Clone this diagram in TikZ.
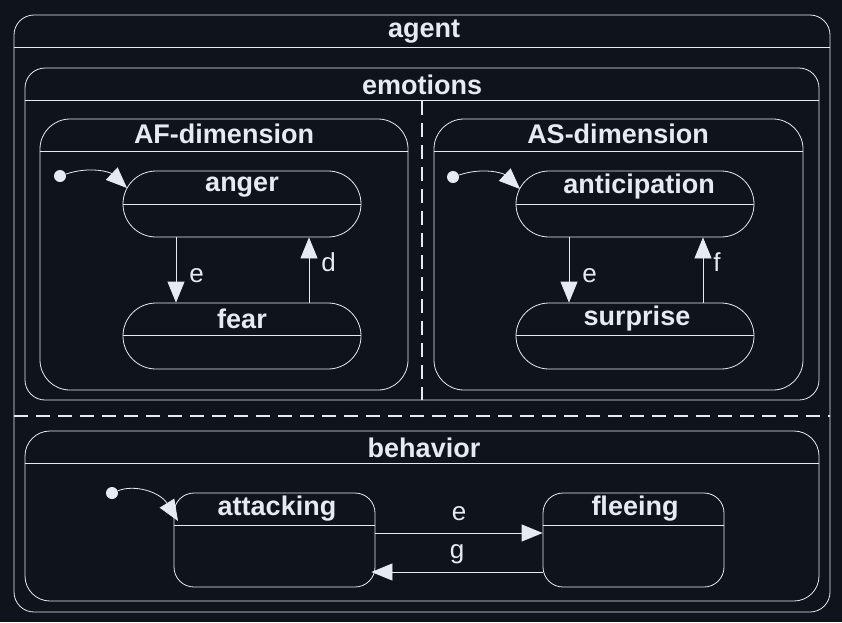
\documentclass[tikz,border=0pt]{standalone}
\usepackage{fontspec}
\setmainfont{Liberation Sans}
\usetikzlibrary{arrows.meta}
\definecolor{bgcol}{HTML}{0F131B}
\definecolor{fgcol}{HTML}{E6EBF2}

\tikzset{
  box/.style={draw=fgcol, line width=0.8pt, rectangle, inner sep=0},
  title/.style={text=fgcol, font=\fontsize{27}{30}\selectfont\bfseries, inner sep=0},
  lbl/.style={text=fgcol, font=\fontsize{26}{30}\selectfont, inner sep=0},
  trans/.style={draw=fgcol, line width=0.8pt, -{Triangle[length=21pt,width=17pt]}},
  init/.style={circle, fill=fgcol, minimum size=12pt, inner sep=0},
  split/.style={draw=fgcol, line width=1.8pt, dash pattern=on 14pt off 8pt},
}

\begin{document}
\begin{tikzpicture}[x=1pt, y=-1pt]
\fill[bgcol] (0,0) rectangle (842,622);
\useasboundingbox (0,0) rectangle (842,622);

% agent
\node[box, rounded corners=20, minimum width=816, minimum height=597] (agent) at (422,313.5) {};
\draw[fgcol, line width=0.8pt] ([yshift=-33pt]agent.north west) -- ([yshift=-33pt]agent.north east);
\node[title] (agent title) at (424,32) {agent};

% emotions
\node[box, rounded corners=20, minimum width=794, minimum height=332] (emotions) at (422,234) {};
\draw[fgcol, line width=0.8pt] ([yshift=-33pt]emotions.north west) -- ([yshift=-33pt]emotions.north east);
\node[title] (emotions title) at (422,85) {emotions};
\draw[split] (422,101) -- (422,400);
\draw[split] (14,416) -- (830,416);

% AF-dimension
\node[box, rounded corners=30, minimum width=368, minimum height=271] (af) at (224,254.5) {};
\draw[fgcol, line width=0.8pt] ([yshift=-33pt]af.north west) -- ([yshift=-33pt]af.north east);
\node[title] (af title) at (224,134) {AF-dimension};

\node[box, rounded corners=33, minimum width=238, minimum height=66] (anger) at (242,204) {};
\draw[fgcol, line width=0.8pt] ([yshift=-34pt]anger.north west) -- ([yshift=-34pt]anger.north east);
\node[title] (anger title) at (242,187) {anger};

\node[box, rounded corners=33, minimum width=238, minimum height=66] (fear) at (242,336) {};
\draw[fgcol, line width=0.8pt] ([yshift=-33pt]fear.north west) -- ([yshift=-33pt]fear.north east);
\node[title] (fear title) at (242,319) {fear};

\node[init] (af init) at (60,176) {};
\draw[trans] (af init) .. controls (90,166) and (110,172) .. (127,188);
\coordinate (e1) at (176,0);
\coordinate (d1) at (309,0);
\draw[trans] (anger.south -| e1) -- node[lbl, right=13pt, yshift=-6pt] (e1 label) {e} (fear.north -| e1);
\draw[trans] (fear.north -| d1) -- node[lbl, right=12pt, yshift=8pt] (d1 label) {d} (anger.south -| d1);

% AS-dimension
\node[box, rounded corners=30, minimum width=369, minimum height=271] (as) at (618.5,254.5) {};
\draw[fgcol, line width=0.8pt] ([yshift=-33pt]as.north west) -- ([yshift=-33pt]as.north east);
\node[title] (as title) at (618,134) {AS-dimension};

\node[box, rounded corners=33, minimum width=238, minimum height=66] (anticipation) at (635,204) {};
\draw[fgcol, line width=0.8pt] ([yshift=-34pt]anticipation.north west) -- ([yshift=-34pt]anticipation.north east);
\node[title] (anticipation title) at (639,187) {anticipation};

\node[box, rounded corners=33, minimum width=238, minimum height=66] (surprise) at (635,336) {};
\draw[fgcol, line width=0.8pt] ([yshift=-33pt]surprise.north west) -- ([yshift=-33pt]surprise.north east);
\node[title] (surprise title) at (637,319) {surprise};

\node[init] (as init) at (453,177) {};
\draw[trans] (as init) .. controls (483,167) and (503,173) .. (520,189);
\coordinate (e2) at (569,0);
\coordinate (f2) at (703,0);
\draw[trans] (anticipation.south -| e2) -- node[lbl, right=13pt, yshift=-6pt] (e2 label) {e} (surprise.north -| e2);
\draw[trans] (surprise.north -| f2) -- node[lbl, right=10pt, yshift=8pt] (f2 label) {f} (anticipation.south -| f2);

% behavior
\node[box, rounded corners=25, minimum width=794, minimum height=170] (behavior) at (422,516) {};
\draw[fgcol, line width=0.8pt] ([yshift=-33pt]behavior.north west) -- ([yshift=-33pt]behavior.north east);
\node[title] (behavior title) at (424,448) {behavior};

\node[box, rounded corners=20, minimum width=201, minimum height=94] (attacking) at (274.5,540) {};
\draw[fgcol, line width=0.8pt] ([yshift=-33pt]attacking.north west) -- ([yshift=-33pt]attacking.north east);
\node[title] (attacking title) at (277,509) {attacking};

\node[box, rounded corners=20, minimum width=181, minimum height=94] (fleeing) at (633.5,540) {};
\draw[fgcol, line width=0.8pt] ([yshift=-33pt]fleeing.north west) -- ([yshift=-33pt]fleeing.north east);
\node[title] (fleeing title) at (635,509) {fleeing};

\node[init] (behavior init) at (112,493) {};
\draw[trans] (behavior init) .. controls (135,484) and (160,492) .. (178,521);
\coordinate (e3) at (0,533);
\coordinate (g3) at (0,572);
\draw[trans] (attacking.east |- e3) -- node[lbl, above=12pt] (e3 label) {e} (fleeing.west |- e3);
\draw[trans] (fleeing.west |- g3) -- node[lbl, above=8pt] (g3 label) {g} ([xshift=-4pt]attacking.east |- g3);
\end{tikzpicture}
\end{document}
